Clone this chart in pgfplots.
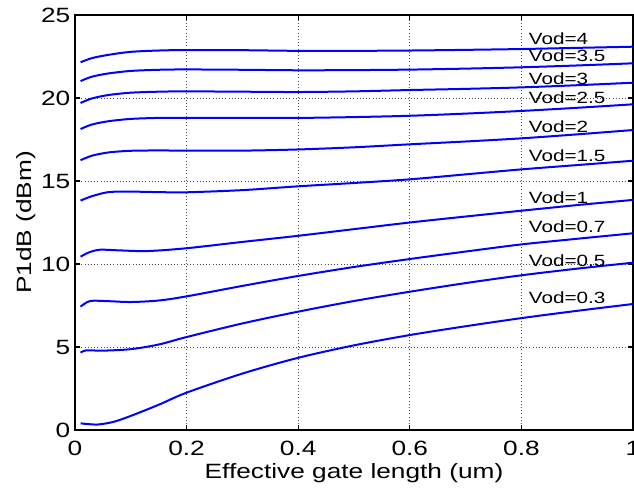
\documentclass[border=0pt]{standalone}
\usepackage{fontspec}
\setmainfont{Liberation Sans}[FakeStretch=1.27]
\usepackage{pgfplots}
\pgfplotsset{compat=1.18}

\begin{document}
\begin{tikzpicture}
\begin{axis}[
    scale only axis,
    width=418.5pt, height=311.25pt,
    xmin=0, xmax=1, ymin=0, ymax=25,
    xtick={0,0.2,0.4,0.6,0.8,1},
    xticklabels={0,0.2,0.4,0.6,0.8,1},
    ytick={0,5,10,15,20,25},
    /pgf/number format/assume math mode=true,
    tick label style={font=\fontsize{15.5}{18}\selectfont},
    xticklabel style={yshift=-5pt},
    label style={font=\fontsize{15.5}{18}\selectfont},
    xlabel={Effective gate length (um)},
    ylabel={P1dB (dBm)},
    xlabel style={at={(axis description cs:0.5,-0.103)}, anchor=center},
    ylabel style={at={(axis description cs:-0.088,0.5)}, anchor=center},
    tick align=inside,
    major tick length=3.5pt,
    axis line style={line width=1.4pt},
    every tick/.style={black, line width=1pt},
    grid=major,
    grid style={black!70, dotted, line width=0.6pt},
    curve/.style={blue, line width=1.5pt, smooth, mark=none},
    clip=false,
]
% Vod=4
\addplot[curve] coordinates {(0.01,22.15)(0.03,22.4)(0.06,22.6)(0.1,22.78)(0.15,22.86)(0.2,22.89)(0.3,22.88)(0.4,22.84)(0.5,22.84)(0.6,22.86)(0.7,22.9)(0.8,22.95)(0.9,23.02)(1.0,23.09)};
% Vod=3.5
\addplot[curve] coordinates {(0.01,21.02)(0.03,21.28)(0.06,21.48)(0.1,21.63)(0.15,21.7)(0.2,21.72)(0.3,21.7)(0.4,21.67)(0.5,21.68)(0.6,21.71)(0.7,21.77)(0.8,21.85)(0.9,21.96)(1.0,22.09)};
% Vod=3
\addplot[curve] coordinates {(0.01,19.7)(0.03,19.97)(0.06,20.18)(0.1,20.32)(0.15,20.38)(0.2,20.4)(0.3,20.38)(0.4,20.36)(0.5,20.4)(0.6,20.48)(0.7,20.55)(0.8,20.64)(0.9,20.77)(1.0,20.92)};
% Vod=2.5
\addplot[curve] coordinates {(0.01,18.13)(0.03,18.4)(0.06,18.6)(0.1,18.74)(0.15,18.8)(0.2,18.81)(0.3,18.8)(0.4,18.8)(0.5,18.85)(0.6,18.93)(0.7,19.06)(0.8,19.22)(0.9,19.41)(1.0,19.62)};
% Vod=2
\addplot[curve] coordinates {(0.01,16.25)(0.03,16.52)(0.06,16.72)(0.1,16.82)(0.15,16.84)(0.2,16.83)(0.3,16.83)(0.4,16.9)(0.5,17.03)(0.6,17.21)(0.7,17.38)(0.8,17.57)(0.9,17.81)(1.0,18.07)};
% Vod=1.5
\addplot[curve] coordinates {(0.01,13.82)(0.03,14.08)(0.06,14.33)(0.1,14.36)(0.15,14.33)(0.2,14.32)(0.3,14.45)(0.4,14.68)(0.5,14.88)(0.6,15.1)(0.7,15.4)(0.8,15.7)(0.9,15.96)(1.0,16.22)};
% Vod=1
\addplot[curve] coordinates {(0.01,10.44)(0.025,10.7)(0.045,10.86)(0.08,10.82)(0.13,10.78)(0.2,10.95)(0.3,11.33)(0.4,11.7)(0.5,12.1)(0.6,12.5)(0.7,12.86)(0.8,13.21)(0.9,13.55)(1.0,13.86)};
% Vod=0.7
\addplot[curve] coordinates {(0.01,7.43)(0.027,7.77)(0.06,7.76)(0.1,7.71)(0.15,7.8)(0.2,8.05)(0.3,8.68)(0.4,9.28)(0.5,9.82)(0.6,10.3)(0.7,10.75)(0.8,11.18)(0.9,11.52)(1.0,11.85)};
% Vod=0.5
\addplot[curve] coordinates {(0.01,4.66)(0.02,4.8)(0.05,4.78)(0.1,4.87)(0.15,5.15)(0.2,5.6)(0.3,6.42)(0.4,7.13)(0.5,7.77)(0.6,8.33)(0.7,8.85)(0.8,9.32)(0.9,9.72)(1.0,10.08)};
% Vod=0.3
\addplot[curve] coordinates {(0.01,0.4)(0.04,0.33)(0.07,0.5)(0.1,0.85)(0.15,1.52)(0.2,2.25)(0.3,3.4)(0.4,4.35)(0.5,5.1)(0.6,5.72)(0.7,6.25)(0.8,6.74)(0.9,7.18)(1.0,7.59)};

\begin{scope}[every node/.style={anchor=west, inner sep=0pt, font=\fontsize{12.2}{14}\selectfont}]
\node at (axis cs:0.813,23.55) {Vod=4};
\node at (axis cs:0.813,22.55) {Vod=3.5};
\node at (axis cs:0.813,21.17) {Vod=3};
\node at (axis cs:0.813,20.0) {Vod=2.5};
\node at (axis cs:0.813,18.3) {Vod=2};
\node at (axis cs:0.813,16.5) {Vod=1.5};
\node at (axis cs:0.813,13.97) {Vod=1};
\node at (axis cs:0.813,12.25) {Vod=0.7};
\node at (axis cs:0.813,10.2) {Vod=0.5};
\node at (axis cs:0.813,8.0) {Vod=0.3};
\end{scope}
\end{axis}
\pgfresetboundingbox
\path ([xshift=-56.25pt, yshift=-44.25pt]current axis.south west) rectangle ([xshift=0.75pt, yshift=11.25pt]current axis.north east);
\end{tikzpicture}
\end{document}
